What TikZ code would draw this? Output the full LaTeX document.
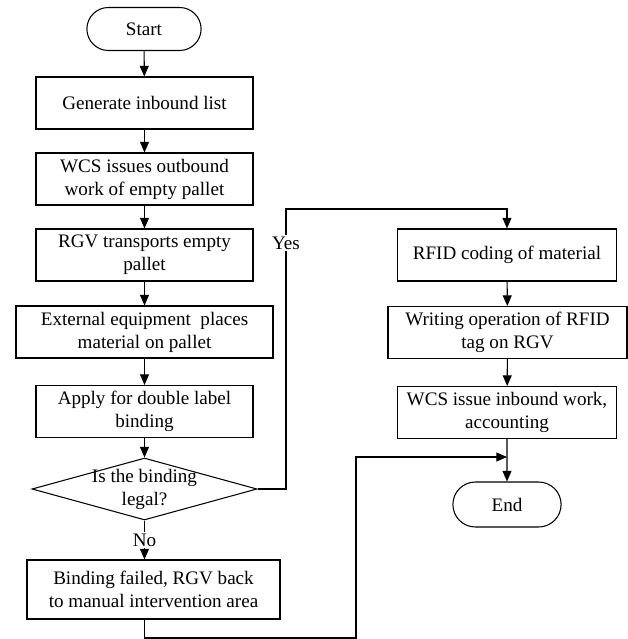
\documentclass[tikz,border=0pt]{standalone}
\usepackage{fontspec}
\setmainfont{Liberation Serif}
\usetikzlibrary{arrows.meta,shapes.geometric,shapes.misc}

\begin{document}
\begin{tikzpicture}
                        [x=0.03cm, y=-0.03cm, line width=0.9pt,
                        font=\fontsize{16.3}{19.6}\selectfont,
                        box/.style = {rectangle, draw, align=center,
                                    minimum height=1.56cm, inner sep=2pt},
                        term/.style = {rounded rectangle, draw,
                                    minimum width=3.66cm, minimum height=1.29cm},
                        cond/.style = {diamond, draw, inner sep=0pt,
                                    minimum width=6.75cm, minimum height=1.86cm},
                        arr/.style = {-{Triangle[length=0.32cm,width=0.27cm]}}]
                        \useasboundingbox (0,0) rectangle (628,639);
                        % Left column
                        \node[term] (start) at (144,29) {Start};
                        \node[box,minimum width=6.51cm] (gen) at (144.5,103) {Generate inbound list};
                        \node[box,minimum width=6.51cm] (wcs) at (144.5,179) {WCS issues outbound\\work of empty pallet};
                        \node[box,minimum width=6.51cm] (rgv) at (144.5,255) {RGV transports empty\\pallet};
                        \node[box,minimum width=7.71cm] (ext) at (144.5,332) {External equipment\ \ places\\material on pallet};
                        \node[box,minimum width=6.51cm] (apply) at (144.5,411.5) {Apply for double label\\binding};
                        \node[cond] (legal) at (144.5,489) {};
                        \node[align=center] (legaltxt) at (legal) {Is the binding\\legal?};
                        \node[box,minimum width=7.59cm,minimum height=1.77cm] (fail) at (153.5,589.5) {Binding failed, RGV back\\to manual intervention area};
                        % Right column
                        \node[box,minimum width=6.57cm] (rfid) at (507,255) {RFID coding of material};
                        \node[box,minimum width=7.17cm] (write) at (507.5,332.5) {Writing operation of RFID\\tag on RGV};
                        \node[box,minimum width=6.57cm] (wcsin) at (507,412.5) {WCS issue inbound work,\\accounting};
                        \node[term,minimum width=3.48cm,minimum height=1.35cm] (end) at (507,504.5) {End};
                        % Connectors
                        \draw[arr] (start) -- (gen);
                        \draw[arr] (gen) -- (wcs);
                        \draw[arr] (wcs) -- (rgv);
                        \draw[arr] (rgv) -- (ext);
                        \draw[arr] (ext) -- (apply);
                        \draw[arr] (apply) -- (legal);
                        \draw[arr] (legal) -- node[fill=white,inner sep=1pt] (no) {No} (legal |- fail.north);
                        \draw[arr] (rfid) -- (write);
                        \draw[arr] (write) -- (wcsin);
                        \draw[arr] (wcsin) -- (end);
                        % Yes branch
                        \coordinate (yesup) at (286,209);
                        \draw[arr] (legal.east) -| (yesup) -| (rfid.north);
                        \node[fill=white,inner sep=1pt] (yes) at (286,243) {Yes};
                        % Failed branch back to end
                        \coordinate (low) at (356,638);
                        \coordinate (merge) at (507,457);
                        \draw[arr] (legal |- fail.south) |- (low) |- (merge);
                    \end{tikzpicture}
\end{document}
